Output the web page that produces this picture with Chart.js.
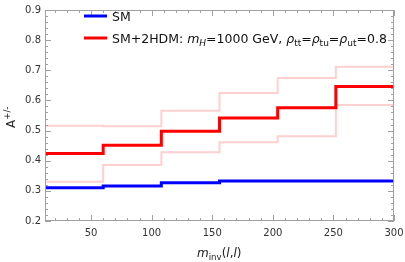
<!DOCTYPE html>
<html>
<head>
<meta charset="utf-8">
<script src="https://cdn.jsdelivr.net/npm/chart.js@4.4.1/dist/chart.umd.min.js"></script>
<style>
  html, body { margin: 0; padding: 0; background: #fff; }
  #wrap { width: 405px; height: 262px; }
</style>
</head>
<body>
<div id="wrap"><canvas id="chart"></canvas></div>
<script>
// данные
const binEdges = [12, 60, 108, 156, 204, 252, 300];
const smValues = [0.310, 0.316, 0.327, 0.333, 0.333, 0.333];
const hdmValues = [0.424, 0.451, 0.498, 0.542, 0.576, 0.646];
const hdmUpper = [0.516, 0.514, 0.566, 0.625, 0.674, 0.712];
const hdmLower = [0.330, 0.386, 0.428, 0.461, 0.481, 0.585];
const xTicks = [50, 100, 150, 200, 250, 300];
const yTicks = [0.2, 0.3, 0.4, 0.5, 0.6, 0.7, 0.8, 0.9];

const FONT = '"DejaVu Sans", sans-serif';
const AXIS_COLOR = '#a0a0a0';

// точки для ступенчатой линии: левые края бинов + правый край
function stepPoints(values) {
    return binEdges.map(function(x, i) {
        return { x: x, y: values[Math.min(i, values.length - 1)] };
    });
}

// текст с курсивом и индексами
function drawRich(ctx, parts, x, y, size, color) {
    ctx.save();
    ctx.fillStyle = color;
    ctx.textBaseline = 'alphabetic';
    ctx.textAlign = 'left';
    let cx = x;
    parts.forEach(function(p) {
        const s = (p.sub || p.sup) ? size * 0.72 : size;
        ctx.font = (p.italic ? 'italic ' : '') + s + 'px ' + FONT;
        let dy = 0;
        if (p.sub) dy = size * 0.25;
        if (p.sup) dy = -size * 0.42;
        ctx.fillText(p.t, cx, y + dy);
        cx += ctx.measureText(p.t).width;
    });
    ctx.restore();
    return cx;
}

const framePlugin = {
    id: 'framePlugin',
    afterDraw: function(chart) {
        const ctx = chart.ctx;
        const a = chart.chartArea;
        const xs = chart.scales.x;
        const ys = chart.scales.y;

        ctx.save();
        // рамка
        ctx.strokeStyle = AXIS_COLOR;
        ctx.lineWidth = 1;
        ctx.strokeRect(a.left + 0.5, a.top + 0.5, a.right - a.left - 1, a.bottom - a.top - 1);

        // засечки внутрь
        ctx.beginPath();
        for (let v = 20; v <= 300; v += 10) {
            const px = Math.round(xs.getPixelForValue(v)) + 0.5;
            const len = (v % 50 === 0) ? 6 : 3;
            ctx.moveTo(px, a.bottom); ctx.lineTo(px, a.bottom - len);
            ctx.moveTo(px, a.top); ctx.lineTo(px, a.top + len);
        }
        for (let k = 10; k <= 45; k++) {
            const v = k * 0.02;
            const py = Math.round(ys.getPixelForValue(v)) + 0.5;
            const len = (k % 5 === 0) ? 6 : 3;
            ctx.moveTo(a.left, py); ctx.lineTo(a.left + len, py);
            ctx.moveTo(a.right, py); ctx.lineTo(a.right - len, py);
        }
        ctx.stroke();

        // легенда
        ctx.lineWidth = 3;
        ctx.strokeStyle = '#0000ff';
        ctx.beginPath(); ctx.moveTo(84, 16); ctx.lineTo(107, 16); ctx.stroke();
        ctx.strokeStyle = '#ff0000';
        ctx.beginPath(); ctx.moveTo(84, 38); ctx.lineTo(107, 38); ctx.stroke();

        drawRich(ctx, [{ t: 'SM' }], 112, 21, 12.5, '#111');
        drawRich(ctx, [
            { t: 'SM+2HDM: ' },
            { t: 'm', italic: true }, { t: 'H', italic: true, sub: true },
            { t: '=1000 GeV, ' },
            { t: 'ρ', italic: true }, { t: 'tt', sub: true },
            { t: '=' },
            { t: 'ρ', italic: true }, { t: 'tu', sub: true },
            { t: '=' },
            { t: 'ρ', italic: true }, { t: 'ut', sub: true },
            { t: '=0.8' }
        ], 112, 43, 12.5, '#111');

        // подпись оси x
        drawRich(ctx, [
            { t: 'm', italic: true }, { t: 'inv', sub: true },
            { t: '(' }, { t: 'l', italic: true }, { t: ',' }, { t: 'l', italic: true }, { t: ')' }
        ], 197, 257, 12, '#222');

        // подпись оси y
        ctx.translate(15, 128);
        ctx.rotate(-Math.PI / 2);
        drawRich(ctx, [{ t: 'A' }, { t: '+/-', sup: true }], 0, 0, 12, '#222');
        ctx.restore();
    }
};

function initChart() {
    const ctx = document.getElementById('chart');

    new Chart(ctx, {
        type: 'line',
        data: {
            datasets: [
                {
                    label: 'SM',
                    data: stepPoints(smValues),
                    borderColor: '#0000ff',
                    borderWidth: 3
                },
                {
                    label: 'SM+2HDM',
                    data: stepPoints(hdmValues),
                    borderColor: '#ff0000',
                    borderWidth: 3
                },
                {
                    label: 'upper',
                    data: stepPoints(hdmUpper),
                    borderColor: '#ffd0d0',
                    borderWidth: 2
                },
                {
                    label: 'lower',
                    data: stepPoints(hdmLower),
                    borderColor: '#ffd0d0',
                    borderWidth: 2
                }
            ]
        },
        options: {
            responsive: true,
            maintainAspectRatio: false,
            animation: false,
            datasets: {
                line: {
                    stepped: true,
                    fill: false,
                    pointRadius: 0,
                    borderCapStyle: 'butt',
                    borderJoinStyle: 'miter'
                }
            },
            layout: {
                padding: { top: 7, right: 0, left: 0, bottom: 0 }
            },
            plugins: {
                legend: { display: false },
                tooltip: { enabled: false }
            },
            scales: {
                x: {
                    type: 'linear',
                    min: 12,
                    max: 300,
                    afterBuildTicks: function(scale) {
                        scale.ticks = xTicks.map(function(v) { return { value: v }; });
                    },
                    afterFit: function(scale) {
                        scale.height = 41;
                        scale.paddingRight = 11;
                    },
                    grid: { display: false, drawTicks: false },
                    border: { display: false },
                    ticks: {
                        padding: 6,
                        color: '#333',
                        font: { family: FONT, size: 10 },
                        maxRotation: 0
                    }
                },
                y: {
                    min: 0.2,
                    max: 0.9,
                    afterBuildTicks: function(scale) {
                        scale.ticks = yTicks.map(function(v) { return { value: v }; });
                    },
                    afterFit: function(scale) { scale.width = 45; },
                    grid: { display: false, drawTicks: false },
                    border: { display: false },
                    ticks: {
                        padding: 4,
                        color: '#333',
                        font: { family: FONT, size: 10 },
                        callback: function(value) { return value.toFixed(1); }
                    }
                }
            }
        },
        plugins: [framePlugin]
    });
}

initChart();
</script>
</body>
</html>
